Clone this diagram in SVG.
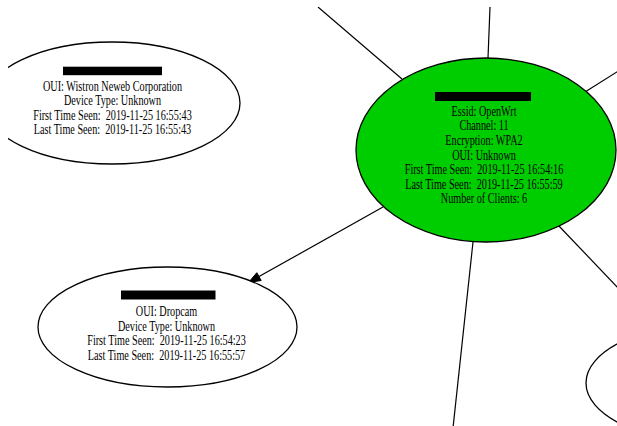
<svg xmlns="http://www.w3.org/2000/svg" width="617" height="426" viewBox="0 0 617 426">
<style>
.node ellipse{stroke:#000;stroke-width:1.3}
.white{fill:#fff}
.green{fill:#00cd00}
.edge{stroke:#000;stroke-width:1.2;fill:none}
.bar{fill:#000}
text{font-family:"Liberation Serif","Times New Roman",serif;font-size:13.8px;text-anchor:middle;fill:#000}
</style>
<defs>
<clipPath id="view"><rect x="8" y="7" width="609" height="419"/></clipPath>
</defs>
<rect x="0" y="0" width="617" height="426" fill="#fff"/>
<g clip-path="url(#view)">
<g id="connectors">
<line class="edge" x1="318" y1="7" x2="402" y2="79"/>
<line class="edge" x1="490" y1="7" x2="488" y2="58"/>
<line class="edge" x1="620" y1="70" x2="585" y2="92"/>
<line class="edge" x1="558" y1="225" x2="620" y2="290"/>
<line class="edge" x1="473" y1="242" x2="453" y2="428"/>
<line class="edge" x1="383" y1="207" x2="259" y2="276.6"/>
<polygon points="248.5,282.5 256.8,272.7 261.2,280.5" fill="#000" stroke="#000" stroke-width="1"/>
</g>
<g id="node-wistron" class="node">
<ellipse class="white" cx="112" cy="103" rx="128" ry="61"/>
<rect class="bar" x="63" y="66.7" width="99" height="8.5"/>
<g transform="translate(112.5 0) scale(0.74 1)">
<text x="0" y="91">OUI: Wistron Neweb Corporation</text>
<text x="0" y="105.5">Device Type: Unknown</text>
<text x="0" y="120">First Time Seen:&#160; 2019-11-25 16:55:43</text>
<text x="0" y="134.5">Last Time Seen:&#160; 2019-11-25 16:55:43</text>
</g>
</g>
<g id="node-ap" class="node">
<ellipse class="green" cx="486" cy="150" rx="130" ry="92"/>
<rect class="bar" x="435" y="92" width="96" height="9"/>
<g transform="translate(484 0) scale(0.74 1)">
<text x="0" y="116">Essid: OpenWrt</text>
<text x="0" y="130.5">Channel: 11</text>
<text x="0" y="145.5">Encryption: WPA2</text>
<text x="0" y="160">OUI: Unknown</text>
<text x="0" y="174.5">First Time Seen:&#160; 2019-11-25 16:54:16</text>
<text x="0" y="189">Last Time Seen:&#160; 2019-11-25 16:55:59</text>
<text x="0" y="203.5">Number of Clients: 6</text>
</g>
</g>
<g id="node-dropcam" class="node">
<ellipse class="white" cx="167.5" cy="327" rx="129.5" ry="60"/>
<rect class="bar" x="121" y="290.5" width="94.5" height="9"/>
<g transform="translate(166.5 0) scale(0.74 1)">
<text x="0" y="316.5">OUI: Dropcam</text>
<text x="0" y="331">Device Type: Unknown</text>
<text x="0" y="345.5">First Time Seen:&#160; 2019-11-25 16:54:23</text>
<text x="0" y="360">Last Time Seen:&#160; 2019-11-25 16:55:57</text>
</g>
</g>
<g id="node-partial" class="node">
<ellipse class="white" cx="716" cy="383" rx="130" ry="60"/>
</g>
</g>
</svg>
